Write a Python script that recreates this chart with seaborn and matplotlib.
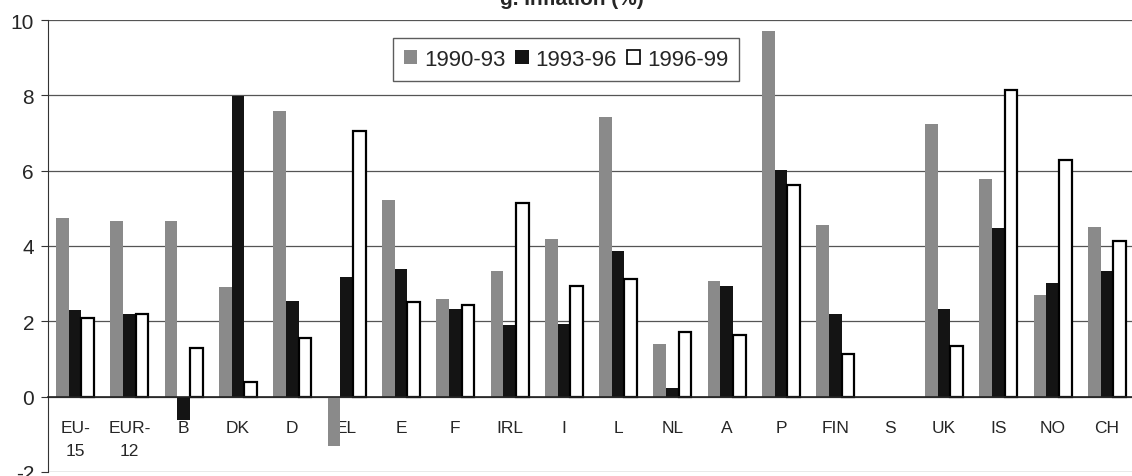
import numpy as np
import pandas as pd
import seaborn as sns
import matplotlib.pyplot as plt
from matplotlib.patches import Patch

# Inflation (%) by country, three periods
countries = ['EU-\n15', 'EUR-\n12', 'B', 'DK', 'D', 'EL', 'E', 'F', 'IRL', 'I',
             'L', 'NL', 'A', 'P', 'FIN', 'S', 'UK', 'IS', 'NO', 'CH']
p1990_93 = [4.74, 4.67, 4.67, 2.90, 7.58, -1.31, 5.22, 2.60, 3.34, 4.18,
            7.43, 1.41, 3.08, 9.70, 4.56, np.nan, 7.23, 5.79, 2.71, 4.51]
p1993_96 = [2.31, 2.19, -0.62, 7.98, 2.53, 3.17, 3.38, 2.34, 1.90, 1.94,
            3.88, 0.22, 2.95, 6.03, 2.20, np.nan, 2.32, 4.48, 3.02, 3.34]
p1996_99 = [2.10, 2.19, 1.30, 0.40, 1.56, 7.05, 2.51, 2.43, 5.13, 2.95,
            3.13, 1.71, 1.64, 5.61, 1.12, np.nan, 1.34, 8.15, 6.28, 4.13]
periods = ['1990-93', '1993-96', '1996-99']
colors = ['#8a8a8a', '#141414', '#ffffff']

df = pd.DataFrame({'country': countries * 3,
                   'period': np.repeat(periods, len(countries)),
                   'value': p1990_93 + p1993_96 + p1996_99})

sns.set_style('white')
plt.rcParams['font.family'] = ['Liberation Sans', 'DejaVu Sans']
plt.rcParams['axes.unicode_minus'] = False

fig = plt.figure(figsize=(11.32, 4.77), dpi=100)
ax = fig.add_axes([48 / 1132, 4 / 477, 1086 / 1132, 452 / 477])

sns.barplot(data=df, x='country', y='value', hue='period', hue_order=periods,
            palette=colors, width=0.7, errorbar=None, ax=ax, saturation=1,
            legend=False)

# white bars get a black outline
for bar in ax.containers[2]:
    bar.set_edgecolor('black')
    bar.set_linewidth(1.6)
for c in ax.containers[:2]:
    for bar in c:
        bar.set_edgecolor('none')

ax.set_ylim(-2, 10)
ax.set_yticks(range(-2, 11, 2))
ax.set_xlim(-0.5, len(countries) - 0.5)
ax.grid(axis='y', color='#555555', linewidth=0.9)
ax.set_axisbelow(True)
ax.set_xlabel('')
ax.set_ylabel('')

for s in ['top', 'right']:
    ax.spines[s].set_visible(False)
ax.spines['left'].set_color('#333333')
ax.spines['bottom'].set_position(('data', 0))
ax.spines['bottom'].set_color('#222222')
ax.spines['bottom'].set_linewidth(1.2)

ax.tick_params(axis='x', length=0, pad=17, labelsize=12.5)
ax.tick_params(axis='y', length=5, width=0.8, color='#333333', pad=5,
               labelsize=15, left=True)
for lbl in ax.get_xticklabels():
    lbl.set_verticalalignment('top')
    lbl.set_linespacing(1.65)

handles = [Patch(facecolor=colors[0], edgecolor='none'),
           Patch(facecolor=colors[1], edgecolor='none'),
           Patch(facecolor=colors[2], edgecolor='black', linewidth=1.2)]
leg = fig.legend(handles, periods, ncol=3, loc='upper left',
                 bbox_to_anchor=(393 / 1132, 1 - 39 / 477), frameon=True,
                 fancybox=False, fontsize=16, handlelength=0.6,
                 handleheight=0.6, handletextpad=0.3, columnspacing=0.45,
                 borderpad=0.5, borderaxespad=0)
leg.get_frame().set_edgecolor('#333333')
leg.get_frame().set_linewidth(1.0)

# title mostly cut off at the top edge as in the scan
fig.text(572 / 1132, 1 - 5 / 477, 'g. Inflation (%)', ha='center',
         va='baseline', fontsize=15, fontweight='bold')

fig.savefig('out.png', dpi=100)
